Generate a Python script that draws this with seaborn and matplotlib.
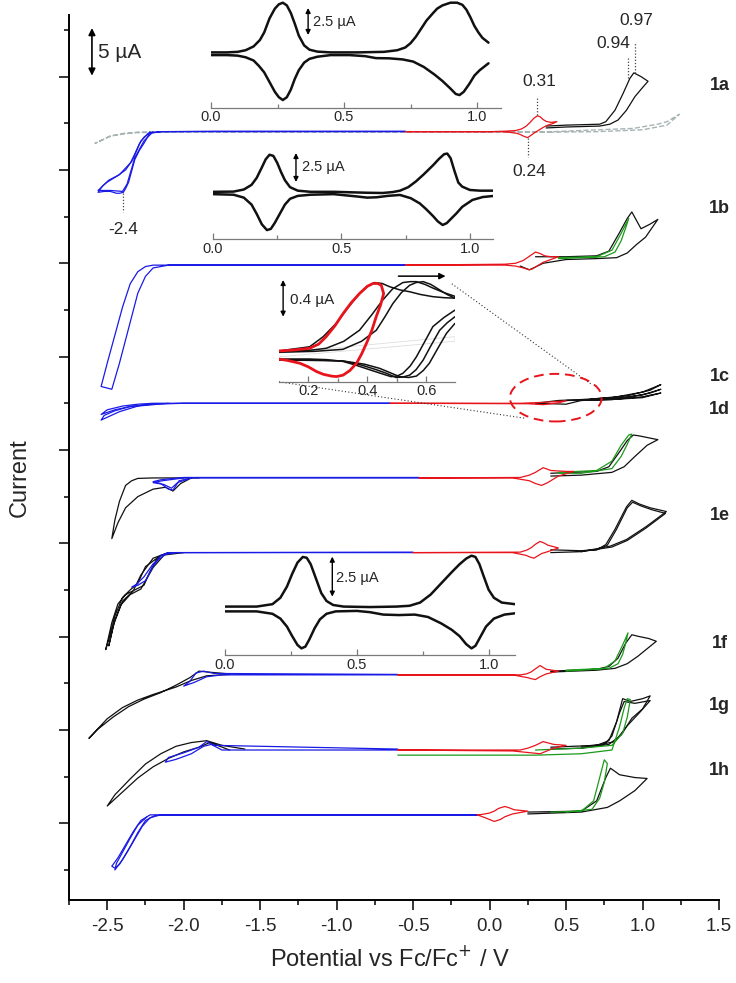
import numpy as np
import pandas as pd
import matplotlib
matplotlib.use("Agg")
import matplotlib.pyplot as plt
import seaborn as sns
from matplotlib.patches import Ellipse
from matplotlib.ticker import MultipleLocator, FixedLocator, FormatStrFormatter

# ------------------------------------------------------------------ data
# potentials in V vs Fc/Fc+, currents in µA relative to each trace baseline
labels = ["1a", "1b", "1c", "1d", "1e", "1f", "1g", "1h"]
baselines = [74.1, 59.8, 45.0, 37.0, 29.0, 15.9, 7.85, 0.9]
label_y = [79.1, 65.9, 47.9, 44.3, 33.0, 19.3, 12.6, 5.7]

# 1a
a_blank = [[0.41,-0.05],[-2.0,-0.05],[-2.3,-0.1],[-2.39,-0.17],[-2.48,-0.5],[-2.58,-1.25],[-2.48,-0.45],[-2.3,-0.05],[-2.0,0.0],[0.41,0.0],[0.94,0.35],[1.1,0.8],[1.16,1.07],[1.24,1.86],[1.16,0.7],[1.0,0.2],[0.7,0.0],[0.41,-0.05]]
a_blue = [[-0.55,0.05],[-1.8,0.05],[-2.15,0.0],[-2.22,-0.1],[-2.26,-1.25],[-2.29,-2.0],[-2.32,-3.0],[-2.34,-4.2],[-2.36,-5.4],[-2.38,-6.1],[-2.395,-6.5],[-2.42,-6.6],[-2.44,-6.6],[-2.48,-6.4],[-2.52,-6.4],[-2.56,-6.5],[-2.53,-5.8],[-2.50,-5.4],[-2.43,-4.7],[-2.38,-4.1],[-2.35,-3.4],[-2.32,-2.4],[-2.29,-1.3],[-2.26,-0.6],[-2.23,-0.2],[-2.15,0.0],[-1.8,0.0],[-0.55,0.0]]
a_blue2 = [[-2.2,0.0],[-2.26,-1.0],[-2.32,-2.8],[-2.37,-5.6],[-2.40,-6.4],[-2.48,-6.3],[-2.56,-6.3],[-2.49,-5.2],[-2.42,-4.6],[-2.34,-3.2],[-2.28,-1.0],[-2.22,0.0]]
a_red = [[-0.55,0.0],[0.0,0.0],[0.1,0.05],[0.17,0.12],[0.21,0.3],[0.24,0.6],[0.265,1.0],[0.29,1.45],[0.313,1.7],[0.33,1.6],[0.35,1.3],[0.37,1.1],[0.40,1.0],[0.44,1.07],[0.41,0.85],[0.38,0.7],[0.35,0.45],[0.32,0.15],[0.295,-0.1],[0.27,-0.4],[0.248,-0.64],[0.225,-0.5],[0.2,-0.3],[0.176,-0.17],[0.12,-0.05],[0.067,0.0],[-0.55,0.0]]
a_black = [[0.37,0.6],[0.5,0.7],[0.72,0.8],[0.76,1.07],[0.82,2.3],[0.873,4.1],[0.917,5.7],[0.943,6.3],[0.99,5.9],[1.036,5.4],[1.004,4.8],[0.95,3.75],[0.895,2.3],[0.84,1.25],[0.786,0.8],[0.72,0.6],[0.5,0.5],[0.37,0.4]]

# 1b
b_blue = [[-0.55,0.0],[-2.1,0.0],[-2.2,-0.3],[-2.25,-1.2],[-2.3,-3.0],[-2.34,-5.5],[-2.38,-8.0],[-2.42,-10.5],[-2.47,-13.3],[-2.54,-13.0],[-2.5,-10.5],[-2.45,-7.5],[-2.40,-4.5],[-2.35,-2.0],[-2.3,-0.7],[-2.25,-0.15],[-2.2,0.0],[-0.55,0.0]]
b_red = [[-0.55,0.0],[0.1,0.1],[0.17,0.2],[0.22,0.5],[0.26,0.95],[0.3,1.4],[0.33,1.25],[0.36,1.0],[0.4,0.9],[0.45,0.9],[0.4,0.6],[0.35,0.3],[0.31,-0.1],[0.28,-0.4],[0.26,-0.5],[0.22,-0.3],[0.17,-0.1],[0.1,0.0],[-0.55,0.0]]
b_black = [[0.3,0.9],[0.5,0.9],[0.7,1.0],[0.78,1.5],[0.85,3.5],[0.9,5.0],[0.93,5.7],[0.96,4.8],[0.99,3.9],[1.05,4.4],[1.10,4.9],[1.02,3.0],[0.96,2.2],[0.9,1.3],[0.83,0.8],[0.7,0.7],[0.5,0.6],[0.35,0.2],[0.3,-0.2],[0.26,-0.5],[0.2,-0.1]]
b_green = [[0.45,0.8],[0.7,0.9],[0.8,1.6],[0.86,3.4],[0.91,5.0],[0.89,4.0],[0.86,2.6],[0.82,1.4],[0.75,0.9],[0.45,0.7]]

# 1c
c_blue = [[-0.65,0.0],[-2.0,0.0],[-2.2,-0.1],[-2.35,-0.35],[-2.45,-0.7],[-2.54,-1.2],[-2.5,-0.7],[-2.4,-0.3],[-2.3,-0.1],[-2.2,0.0],[-0.65,0.0]]
c_blue2 = [[-2.1,0.0],[-2.3,-0.3],[-2.42,-0.9],[-2.54,-1.8],[-2.52,-1.3],[-2.45,-0.8],[-2.35,-0.35],[-2.2,-0.05]]
c_red = [[-0.65,0.0],[0.2,0.0],[0.35,0.1],[0.45,0.2],[0.5,0.25],[0.45,0.05],[0.35,-0.15],[0.25,-0.05],[-0.65,0.0]]
c_black1 = [[0.3,0.0],[0.45,0.3],[0.6,0.4],[0.8,0.6],[1.0,1.2],[1.12,2.0],[1.05,1.4],[0.9,0.8],[0.7,0.5],[0.6,0.3],[0.5,-0.1],[0.3,0.0]]
c_black2 = [[0.5,0.3],[0.7,0.4],[0.9,0.6],[1.05,1.1],[1.12,1.5],[1.0,0.9],[0.8,0.5],[0.6,0.3]]
c_black3 = [[0.5,0.3],[0.8,0.4],[1.0,0.7],[1.12,1.1],[1.0,0.6],[0.8,0.4],[0.6,0.3]]

# 1d
d_blue = [[-0.46,0.0],[-1.95,0.0],[-2.03,-0.3],[-2.07,-1.3],[-2.10,-1.2],[-2.15,-0.6],[-2.2,-0.4],[-2.15,-0.2],[-2.1,-0.1],[-2.0,0.05],[-0.46,0.05]]
d_blue2 = [[-1.95,0.0],[-2.04,-0.5],[-2.08,-1.1],[-2.13,-0.7],[-2.2,-0.5],[-2.14,-0.3],[-2.0,0.0]]
d_black_l = [[-1.9,0.0],[-2.2,0.0],[-2.3,-0.05],[-2.34,-0.3],[-2.38,-0.8],[-2.42,-2.5],[-2.45,-4.5],[-2.47,-6.5],[-2.43,-4.8],[-2.38,-3.2],[-2.3,-2.0],[-2.2,-1.2],[-2.12,-1.0],[-2.07,-1.4],[-2.02,-0.6],[-1.95,0.0]]
d_red = [[-0.46,0.0],[0.2,0.05],[0.26,0.3],[0.3,0.6],[0.35,1.1],[0.4,0.8],[0.5,0.7],[0.55,0.7],[0.45,0.2],[0.38,-0.5],[0.34,-0.8],[0.3,-0.6],[0.26,-0.3],[0.15,0.0],[-0.46,0.0]]
d_black_r = [[0.4,0.5],[0.7,0.7],[0.78,1.2],[0.85,2.8],[0.9,4.0],[0.94,4.6],[0.98,4.5],[1.1,4.1],[1.03,3.5],[0.95,2.3],[0.88,1.2],[0.8,0.6],[0.6,0.3],[0.4,0.2]]
d_green = [[0.45,0.6],[0.7,0.8],[0.8,1.8],[0.86,3.5],[0.91,4.6],[0.93,4.7],[0.9,3.6],[0.86,2.3],[0.8,1.0],[0.6,0.5],[0.45,0.5]]

# 1e
e_blue = [[-0.5,0.0],[-2.05,0.0],[-2.12,-0.2],[-2.2,-1.2],[-2.26,-2.6],[-2.31,-3.4],[-2.34,-3.7],[-2.3,-3.5],[-2.25,-3.0],[-2.2,-1.5],[-2.15,-0.3],[-2.1,0.0],[-0.5,0.05]]
e_black_l = [[-2.0,0.0],[-2.15,-0.3],[-2.25,-1.5],[-2.3,-3.3],[-2.35,-4.0],[-2.4,-4.8],[-2.45,-6.8],[-2.48,-8.8],[-2.51,-10.4],[-2.47,-7.5],[-2.43,-5.5],[-2.38,-4.5],[-2.32,-4.0],[-2.26,-3.5],[-2.22,-2.0],[-2.17,-0.5],[-2.1,0.0]]
e_black_l2 = [[-2.1,0.0],[-2.2,-0.6],[-2.28,-2.4],[-2.33,-4.1],[-2.4,-5.2],[-2.45,-7.2],[-2.49,-10.0],[-2.46,-7.8],[-2.41,-5.6],[-2.35,-4.5],[-2.28,-3.9],[-2.2,-1.6],[-2.12,-0.1]]
e_red = [[-0.5,0.0],[0.2,0.05],[0.24,0.25],[0.27,0.5],[0.3,0.9],[0.33,1.2],[0.36,1.0],[0.38,0.8],[0.45,0.5],[0.38,0.1],[0.34,-0.1],[0.32,-0.3],[0.29,-0.6],[0.26,-0.45],[0.24,-0.3],[0.15,0.0],[-0.5,0.0]]
e_black_r = [[0.4,0.3],[0.6,0.2],[0.7,0.3],[0.76,0.86],[0.82,2.5],[0.895,4.9],[0.93,5.6],[0.98,5.2],[1.05,4.8],[1.156,4.4],[1.025,2.8],[0.895,1.4],[0.79,0.7],[0.6,0.1],[0.4,0.0]]
e_black_r2 = [[0.6,0.2],[0.7,0.3],[0.77,0.8],[0.83,2.5],[0.9,4.8],[0.935,5.4],[0.99,5.0],[1.06,4.6],[1.15,4.2],[1.02,2.6],[0.9,1.3],[0.8,0.6],[0.6,0.1]]

# 1f
f_blue = [[-0.6,0.0],[-1.75,0.0],[-1.85,-0.2],[-1.93,-0.8],[-2.0,-1.2],[-1.96,-0.7],[-1.92,0.2],[-1.87,0.4],[-1.8,0.15],[-0.6,0.05]]
f_black_l = [[-1.7,0.05],[-1.85,-0.1],[-1.95,-0.6],[-2.05,-1.3],[-2.2,-2.1],[-2.3,-2.7],[-2.4,-3.5],[-2.5,-4.7],[-2.62,-6.8],[-2.56,-5.8],[-2.46,-4.5],[-2.36,-3.4],[-2.26,-2.6],[-2.15,-1.9],[-2.05,-1.1],[-1.96,-0.3],[-1.9,0.4],[-1.84,0.3],[-1.7,0.1]]
f_red = [[-0.6,0.0],[0.2,0.0],[0.24,0.1],[0.27,0.3],[0.3,0.65],[0.33,1.0],[0.35,0.8],[0.37,0.6],[0.45,0.4],[0.37,0.1],[0.33,-0.2],[0.3,-0.5],[0.27,-0.4],[0.25,-0.3],[0.15,0.0],[-0.6,0.0]]
f_black_r = [[0.4,0.4],[0.7,0.6],[0.78,0.9],[0.84,1.8],[0.89,3.4],[0.93,4.3],[0.98,4.1],[1.04,3.9],[1.09,3.6],[1.03,2.8],[0.97,2.0],[0.9,1.2],[0.82,0.7],[0.7,0.5],[0.4,0.3]]
f_green = [[0.5,0.5],[0.75,0.7],[0.82,1.5],[0.87,3.2],[0.905,4.5],[0.89,3.4],[0.87,2.2],[0.84,1.2],[0.78,0.7],[0.5,0.4]]

# 1g
g_blue = [[-0.6,0.0],[-1.75,0.0],[-1.82,0.6],[-1.87,0.4],[-1.95,-0.4],[-2.05,-1.0],[-2.12,-1.3],[-2.1,-0.8],[-2.0,-0.3],[-1.9,0.3],[-1.85,0.9],[-1.8,0.5],[-0.6,0.1]]
g_black_l = [[-1.7,0.0],[-1.78,0.5],[-1.83,0.8],[-1.9,0.3],[-2.0,-0.2],[-2.1,-0.9],[-2.2,-1.8],[-2.3,-3.0],[-2.4,-4.5],[-2.5,-6.0],[-2.45,-4.8],[-2.35,-3.1],[-2.25,-1.5],[-2.15,-0.4],[-2.05,0.4],[-1.95,0.8],[-1.85,1.0],[-1.75,0.5],[-1.6,0.1]]
g_red = [[-0.6,0.0],[0.2,0.0],[0.25,0.2],[0.3,0.5],[0.35,0.9],[0.42,0.6],[0.5,0.5],[0.42,0.2],[0.36,-0.2],[0.33,-0.4],[0.27,-0.3],[0.15,-0.1],[-0.6,0.0]]
g_green = [[-0.6,-0.55],[0.3,-0.55],[0.6,-0.4],[0.8,0.0],[0.85,2.5],[0.88,4.5],[0.9,5.5],[0.92,5.4],[0.9,3.5],[0.87,1.8],[0.8,0.5],[0.6,0.2],[0.3,0.0]]
g_black_r = [[0.4,0.3],[0.7,0.5],[0.78,1.0],[0.83,3.0],[0.87,5.5],[0.92,5.2],[1.0,5.5],[1.05,5.8],[1.0,4.4],[0.93,3.4],[0.86,1.6],[0.78,0.6],[0.6,0.2],[0.4,0.1]]
g_black_r2 = [[0.6,0.4],[0.75,0.6],[0.8,1.5],[0.85,4.0],[0.88,5.2],[0.95,5.0],[1.05,5.3],[0.98,4.0],[0.9,2.6],[0.82,0.9],[0.6,0.2]]

# 1h
h_blue = [[-0.08,0.0],[-2.15,0.0],[-2.22,-0.3],[-2.27,-1.2],[-2.32,-2.6],[-2.37,-4.0],[-2.42,-5.3],[-2.45,-5.7],[-2.47,-5.5],[-2.43,-4.6],[-2.38,-3.2],[-2.33,-1.8],[-2.28,-0.6],[-2.22,0.0],[-0.08,0.0]]
h_blue2 = [[-2.18,0.0],[-2.25,-0.6],[-2.3,-1.9],[-2.35,-3.4],[-2.4,-4.8],[-2.45,-5.9],[-2.44,-5.2],[-2.4,-4.0],[-2.35,-2.5],[-2.3,-1.1],[-2.24,-0.2]]
h_red = [[-0.08,0.0],[-0.05,0.05],[0.0,0.2],[0.03,0.4],[0.06,0.7],[0.1,0.9],[0.13,0.75],[0.16,0.55],[0.25,0.4],[0.15,0.1],[0.1,-0.2],[0.07,-0.5],[0.03,-0.7],[0.0,-0.5],[-0.03,-0.3],[-0.08,0.0]]
h_green = [[0.4,0.3],[0.6,0.4],[0.68,1.5],[0.72,4.0],[0.75,5.9],[0.77,5.5],[0.75,3.5],[0.72,1.8],[0.67,0.6],[0.5,0.3]]
h_black = [[0.25,0.3],[0.6,0.4],[0.7,1.5],[0.76,4.0],[0.79,5.0],[0.85,4.3],[0.95,4.0],[1.03,3.9],[0.95,2.6],[0.85,1.5],[0.77,0.8],[0.6,0.3],[0.25,0.1]]

# insets (V, µA): upper (forward) and lower (reverse) sweeps
ins_a_up = [[0.0,0.15],[0.06,0.15],[0.10,0.2],[0.13,0.35],[0.16,0.7],[0.184,1.3],[0.20,2.0],[0.22,3.3],[0.24,4.2],[0.255,4.6],[0.27,4.75],[0.285,4.5],[0.30,3.8],[0.315,2.8],[0.33,1.7],[0.35,0.8],[0.37,0.4],[0.40,0.22],[0.45,0.15],[0.55,0.15],[0.65,0.2],[0.70,0.35],[0.73,0.6],[0.75,1.0],[0.77,1.6],[0.786,2.2],[0.81,3.1],[0.835,3.8],[0.85,4.2],[0.87,4.5],[0.90,4.75],[0.925,4.75],[0.945,4.55],[0.96,4.1],[0.975,3.4],[0.99,2.6],[1.005,2.0],[1.02,1.5],[1.043,1.05]]
ins_a_dn = [[0.0,-0.1],[0.06,-0.1],[0.10,-0.15],[0.13,-0.3],[0.16,-0.6],[0.18,-1.1],[0.20,-1.7],[0.22,-2.6],[0.24,-3.5],[0.255,-4.0],[0.27,-4.26],[0.285,-4.0],[0.30,-3.3],[0.315,-2.3],[0.33,-1.5],[0.35,-0.8],[0.37,-0.45],[0.40,-0.25],[0.45,-0.1],[0.52,-0.1],[0.58,-0.2],[0.62,-0.38],[0.67,-0.4],[0.72,-0.5],[0.76,-0.7],[0.80,-1.2],[0.84,-1.9],[0.87,-2.5],[0.90,-3.2],[0.92,-3.7],[0.934,-3.8],[0.95,-3.5],[0.97,-2.8],[0.99,-2.0],[1.01,-1.5],[1.043,-0.86]]
ins_b_up = [[0.0,0.1],[0.08,0.12],[0.12,0.3],[0.15,0.7],[0.17,1.3],[0.19,2.2],[0.205,2.9],[0.22,3.3],[0.235,3.2],[0.25,2.6],[0.265,1.8],[0.28,1.1],[0.30,0.5],[0.33,0.2],[0.38,0.1],[0.47,0.1],[0.6,0.02],[0.66,0.0],[0.70,0.08],[0.728,0.2],[0.76,0.5],[0.79,1.0],[0.82,1.6],[0.857,2.4],[0.88,2.95],[0.9,3.35],[0.912,3.4],[0.925,3.0],[0.94,1.9],[0.955,0.9],[0.97,0.55],[1.0,0.26],[1.04,0.2],[1.09,0.2]]
ins_b_dn = [[0.0,-0.1],[0.08,-0.15],[0.12,-0.4],[0.15,-1.0],[0.17,-1.8],[0.19,-2.7],[0.21,-3.2],[0.225,-3.1],[0.24,-2.6],[0.26,-1.8],[0.28,-1.0],[0.30,-0.5],[0.33,-0.25],[0.38,-0.15],[0.47,-0.1],[0.56,-0.3],[0.6,-0.4],[0.637,-0.37],[0.68,-0.25],[0.728,-0.17],[0.77,-0.45],[0.805,-0.9],[0.83,-1.4],[0.857,-2.0],[0.875,-2.45],[0.894,-2.76],[0.91,-2.6],[0.93,-2.15],[0.948,-1.75],[0.97,-1.2],[1.01,-0.6],[1.05,-0.35],[1.09,-0.26]]
ins_c_red = [[0.1,0.044],[0.15,0.055],[0.204,0.073],[0.235,0.12],[0.26,0.20],[0.29,0.32],[0.317,0.45],[0.345,0.57],[0.373,0.67],[0.40,0.75],[0.419,0.78],[0.435,0.78],[0.447,0.76],[0.455,0.67],[0.445,0.55],[0.43,0.42],[0.415,0.27],[0.397,0.13],[0.38,0.01],[0.363,-0.09],[0.34,-0.17],[0.317,-0.22],[0.295,-0.235],[0.278,-0.23],[0.25,-0.21],[0.227,-0.18],[0.2,-0.13],[0.171,-0.09],[0.13,-0.06],[0.1,-0.044]]
ins_c_k1_up = [[0.1,0.044],[0.204,0.09],[0.25,0.2],[0.294,0.345],[0.335,0.52],[0.373,0.67],[0.40,0.75],[0.424,0.79],[0.45,0.78],[0.475,0.745],[0.51,0.71],[0.543,0.69],[0.58,0.66],[0.622,0.636],[0.66,0.625],[0.697,0.62]]
ins_c_k1_dn = [[0.697,0.49],[0.66,0.41],[0.622,0.31],[0.595,0.15],[0.566,-0.02],[0.545,-0.12],[0.52,-0.2],[0.5,-0.23],[0.48,-0.236],[0.445,-0.2],[0.407,-0.16],[0.36,-0.11],[0.317,-0.07],[0.26,-0.05],[0.204,-0.044],[0.1,-0.044]]
ins_c_k2_up = [[0.1,0.038],[0.2,0.05],[0.26,0.073],[0.32,0.15],[0.373,0.27],[0.415,0.44],[0.452,0.60],[0.485,0.72],[0.52,0.79],[0.545,0.80],[0.566,0.80],[0.595,0.77],[0.622,0.73],[0.66,0.68],[0.697,0.64]]
ins_c_k2_dn = [[0.697,0.418],[0.67,0.35],[0.645,0.27],[0.615,0.1],[0.589,-0.055],[0.565,-0.16],[0.543,-0.22],[0.52,-0.24],[0.497,-0.245],[0.465,-0.2],[0.43,-0.16],[0.38,-0.11],[0.317,-0.065],[0.2,-0.05],[0.1,-0.05]]
ins_c_k3_up = [[0.1,0.03],[0.22,0.04],[0.317,0.062],[0.38,0.15],[0.43,0.27],[0.46,0.42],[0.486,0.56],[0.515,0.68],[0.543,0.76],[0.565,0.79],[0.589,0.80],[0.615,0.77],[0.645,0.71],[0.67,0.66],[0.697,0.62]]
ins_c_k3_dn = [[0.697,0.345],[0.668,0.236],[0.64,0.08],[0.61,-0.09],[0.589,-0.17],[0.566,-0.23],[0.54,-0.245],[0.509,-0.236],[0.475,-0.19],[0.441,-0.145],[0.39,-0.1],[0.317,-0.065],[0.2,-0.058],[0.1,-0.055]]
ins_c_gray = [[0.1,0.02],[0.697,0.2],[0.697,0.15],[0.1,-0.02]]
ins_d_up = [[0.0,0.15],[0.12,0.15],[0.18,0.3],[0.21,0.7],[0.235,1.4],[0.255,2.2],[0.275,2.9],[0.295,3.25],[0.31,3.2],[0.325,2.8],[0.345,1.9],[0.365,1.0],[0.385,0.5],[0.41,0.25],[0.45,0.15],[0.55,0.12],[0.65,0.15],[0.7,0.2],[0.74,0.4],[0.78,0.9],[0.82,1.6],[0.86,2.3],[0.89,2.8],[0.915,3.15],[0.935,3.33],[0.95,3.25],[0.965,2.8],[0.98,2.1],[1.0,1.2],[1.02,0.7],[1.05,0.4],[1.10,0.3]]
ins_d_dn = [[0.0,-0.15],[0.12,-0.15],[0.18,-0.3],[0.21,-0.6],[0.235,-1.1],[0.255,-1.7],[0.275,-2.25],[0.29,-2.46],[0.305,-2.35],[0.32,-1.9],[0.34,-1.2],[0.36,-0.65],[0.385,-0.3],[0.42,-0.15],[0.5,-0.12],[0.55,-0.2],[0.6,-0.35],[0.66,-0.38],[0.72,-0.35],[0.77,-0.5],[0.82,-0.9],[0.86,-1.3],[0.89,-1.7],[0.915,-2.2],[0.935,-2.46],[0.95,-2.3],[0.97,-1.7],[0.99,-1.1],[1.02,-0.6],[1.06,-0.35],[1.10,-0.27]]

# ------------------------------------------------------------------ style
sns.set_theme(style="ticks")
plt.rcParams["font.family"] = ["Liberation Sans", "DejaVu Sans"]
plt.rcParams["axes.unicode_minus"] = False

BLUE = "#1a1ae6"
RED = "#e8141c"
GREEN = "#1c9a1c"
BLACK = "#111111"
GRAY = "#a8b4b4"


def trace(ax, pts, base=0.0, color=BLACK, lw=0.9, ls="-", z=2):
    arr = np.asarray(pts, dtype=float)
    df = pd.DataFrame({"V": arr[:, 0], "I": arr[:, 1] + base})
    sns.lineplot(data=df, x="V", y="I", sort=False, estimator=None,
                 color=color, linewidth=lw, linestyle=ls, ax=ax,
                 zorder=z, legend=False)


fig = plt.figure(figsize=(7.36, 9.83), dpi=100)
ax = fig.add_axes([69 / 736, 1 - 900 / 983, 650 / 736, 885 / 983])
ax.set_facecolor("white")

B = dict(zip(labels, baselines))
trace(ax, a_blank, B["1a"], GRAY, 1.0, "--", 1)
groups = [
    ("1a", [(a_blue, BLUE), (a_blue2, BLUE), (a_black, BLACK), (a_red, RED)]),
    ("1b", [(b_blue, BLUE), (b_black, BLACK), (b_green, GREEN), (b_red, RED)]),
    ("1c", [(c_blue, BLUE), (c_blue2, BLUE), (c_black1, BLACK), (c_black2, BLACK), (c_black3, BLACK), (c_red, RED)]),
    ("1d", [(d_black_l, BLACK), (d_blue, BLUE), (d_blue2, BLUE), (d_black_r, BLACK), (d_green, GREEN), (d_red, RED)]),
    ("1e", [(e_black_l, BLACK), (e_black_l2, BLACK), (e_blue, BLUE), (e_black_r, BLACK), (e_black_r2, BLACK), (e_red, RED)]),
    ("1f", [(f_black_l, BLACK), (f_blue, BLUE), (f_black_r, BLACK), (f_green, GREEN), (f_red, RED)]),
    ("1g", [(g_black_l, BLACK), (g_blue, BLUE), (g_black_r, BLACK), (g_black_r2, BLACK), (g_green, GREEN), (g_red, RED)]),
    ("1h", [(h_blue, BLUE), (h_blue2, BLUE), (h_black, BLACK), (h_green, GREEN), (h_red, RED)]),
]
for lab, segs in groups:
    for pts, col in segs:
        trace(ax, pts, B[lab], col, 0.9)

ax.set_xlim(-2.75, 1.5)
ax.set_ylim(-8.22, 86.6)
sns.despine(ax=ax)
for s in ("left", "bottom"):
    ax.spines[s].set_linewidth(1.4)
    ax.spines[s].set_color("black")
ax.xaxis.set_major_locator(FixedLocator([-2.5, -2.0, -1.5, -1.0, -0.5, 0.0, 0.5, 1.0, 1.5]))
ax.xaxis.set_minor_locator(MultipleLocator(0.25))
ax.xaxis.set_major_formatter(FormatStrFormatter("%.1f"))
ax.yaxis.set_major_locator(MultipleLocator(10))
ax.yaxis.set_minor_locator(MultipleLocator(5))
ax.tick_params(axis="both", which="major", direction="out", length=7, width=1.1, color="black")
ax.tick_params(axis="both", which="minor", direction="out", length=3.5, width=1.1, color="black")
ax.tick_params(axis="x", labelsize=13.5, pad=6)
ax.tick_params(axis="y", labelleft=False)
ax.set_xlabel("")
ax.set_ylabel("")

fig.text(390 / 736, 1 - 958 / 983, "Potential vs Fc/Fc$^{+}$ / V", ha="center", va="center", fontsize=17)
fig.text(20 / 736, 1 - 478 / 983, "Current", ha="center", va="center", rotation=90, fontsize=17)

for lab, ly in zip(labels, label_y):
    ax.text(1.505, ly, lab, ha="center", va="center", fontsize=13, fontweight="bold", clip_on=False)

# scale bar
ax.annotate("", xy=(-2.60, 85.2), xytext=(-2.60, 80.1),
            arrowprops=dict(arrowstyle="<|-|>", color="black", lw=1.2, mutation_scale=10, shrinkA=0, shrinkB=0))
ax.text(-2.56, 82.6, "5 µA", ha="left", va="center", fontsize=15)

# peak annotations
dot = dict(color="#444444", lw=0.9, ls=(0, (1, 1.5)))
ax.plot([0.313, 0.313], [75.9, 77.8], **dot)
ax.text(0.324, 79.5, "0.31", ha="center", va="center", fontsize=12.5)
ax.plot([0.248, 0.248], [73.4, 71.4], **dot)
ax.text(0.258, 69.8, "0.24", ha="center", va="center", fontsize=12.5)
ax.plot([0.906, 0.906], [79.8, 82.0], **dot)
ax.text(0.806, 83.6, "0.94", ha="center", va="center", fontsize=12.5)
ax.plot([0.949, 0.949], [80.4, 83.6], **dot)
ax.text(0.962, 86.0, "0.97", ha="center", va="center", fontsize=12.5)
ax.plot([-2.395, -2.395], [67.5, 65.5], **dot)
ax.text(-2.395, 63.6, "-2.4", ha="center", va="center", fontsize=12.5)

# zoom ellipse and connectors
ax.add_patch(Ellipse((0.433, 45.6), 0.60, 5.1, fill=False, edgecolor=RED, lw=1.4, ls=(0, (5, 3)), zorder=5))
ax.plot([-0.247, 0.668], [57.8, 47.0], color="#333333", lw=0.8, ls=(0, (1, 2)))
ax.plot([-1.377, 0.230], [47.3, 43.4], color="#333333", lw=0.8, ls=(0, (1, 2)))


def make_inset(rect, xlim, ylim, majors, minors, fmt="%.1f"):
    ia = fig.add_axes(rect)
    ia.set_facecolor("none")
    ia.set_xlim(*xlim)
    ia.set_ylim(*ylim)
    for s in ("left", "right", "top"):
        ia.spines[s].set_visible(False)
    ia.spines["bottom"].set_color("#7a7a7a")
    ia.spines["bottom"].set_linewidth(0.9)
    ia.set_yticks([])
    ia.xaxis.set_major_locator(FixedLocator(majors))
    ia.xaxis.set_minor_locator(FixedLocator(minors))
    ia.xaxis.set_major_formatter(FormatStrFormatter(fmt))
    ia.tick_params(axis="x", which="both", direction="in", color="#7a7a7a", width=0.9, labelsize=10.5, pad=2)
    ia.tick_params(axis="x", which="major", length=4)
    ia.tick_params(axis="x", which="minor", length=3)
    return ia


def scalebar(ia, x, y0, y1, text, tx, ty, fs=10.5):
    ia.annotate("", xy=(x, y0), xytext=(x, y1),
                arrowprops=dict(arrowstyle="<|-|>", color="black", lw=1.0, mutation_scale=7, shrinkA=0, shrinkB=0))
    ia.text(tx, ty, text, ha="left", va="center", fontsize=fs)


def finish(ia):
    ia.set_xlabel("")
    ia.set_ylabel("")


# inset A (1a)
ia = make_inset([211 / 736, 1 - 107.7 / 983, 290 / 736, 107.7 / 983], (0, 1.09), (-4.97, 5.0), [0, 0.5, 1.0], [0.25, 0.75])
trace(ia, ins_a_up, 0, BLACK, 1.8)
trace(ia, ins_a_dn, 0, BLACK, 1.8)
finish(ia)
scalebar(ia, 0.365, 4.26, 1.76, "2.5 µA", 0.385, 3.0)

# inset B (1b)
ib = make_inset([213 / 736, 1 - 239 / 983, 280 / 736, 94 / 983], (0, 1.09), (-3.97, 4.14), [0, 0.5, 1.0], [0.25, 0.75])
trace(ib, ins_b_up, 0, BLACK, 1.8)
trace(ib, ins_b_dn, 0, BLACK, 1.8)
finish(ib)
scalebar(ib, 0.323, 3.45, 0.95, "2.5 µA", 0.346, 2.2)

# inset C (1c zoom)
ic = make_inset([279 / 736, 1 - 381.7 / 983, 176 / 736, 111.7 / 983], (0.1, 0.697), (-0.291, 0.927), [0.2, 0.4, 0.6], [0.3, 0.5])
trace(ic, ins_c_gray, 0, "#dddddd", 0.6)
for k in (ins_c_k1_up, ins_c_k1_dn, ins_c_k2_up, ins_c_k2_dn, ins_c_k3_up, ins_c_k3_dn):
    trace(ic, k, 0, BLACK, 1.1)
trace(ic, ins_c_red, 0, RED, 2.0)
finish(ic)
scalebar(ic, 0.114, 0.818, 0.418, "0.4 µA", 0.137, 0.6, 11)
ic.annotate("", xy=(0.665, 0.86), xytext=(0.505, 0.86),
            arrowprops=dict(arrowstyle="-|>", color="black", lw=1.1, mutation_scale=9, shrinkA=0, shrinkB=0))

# inset D (1e/1f)
idd = make_inset([225 / 736, 1 - 655 / 983, 290 / 736, 107 / 983], (0, 1.10), (-2.875, 3.81), [0, 0.5, 1.0], [0.25, 0.75])
trace(idd, ins_d_up, 0, BLACK, 1.8)
trace(idd, ins_d_dn, 0, BLACK, 1.8)
finish(idd)
scalebar(idd, 0.407, 3.27, 0.77, "2.5 µA", 0.422, 1.94)

fig.savefig("out.png", dpi=100)
